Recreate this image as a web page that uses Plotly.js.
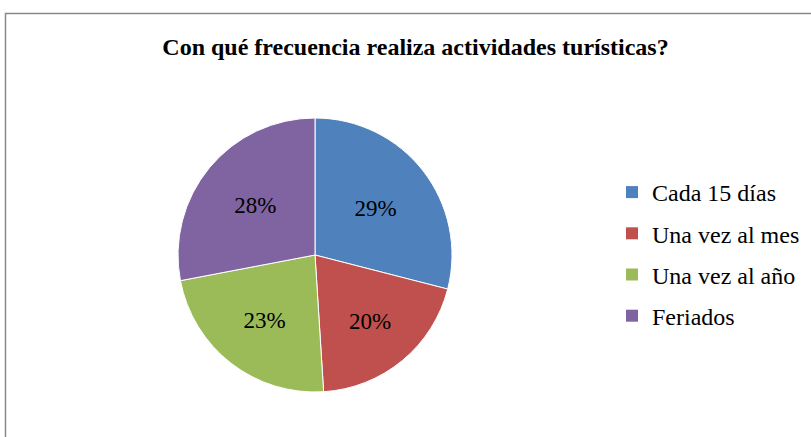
<!DOCTYPE html>
<html><head><meta charset="utf-8">
<script src="https://cdn.plot.ly/plotly-3.0.1.min.js"></script>
<style>html,body{margin:0;padding:0;background:#fff}#chart{width:811px;height:437px}</style>
</head><body><div id="chart"></div>
<script>
const categories = ["Cada 15 días", "Una vez al mes", "Una vez al año", "Feriados"];
const values = [29, 20, 23, 28];
const colors = ["#4F81BD", "#C0504D", "#9BBB59", "#8064A2"];
const titleText = "Con qué frecuencia realiza actividades turísticas?";

const W = 811, H = 437;
const serif = "Liberation Serif";

const traces = [{
  type: "pie",
  labels: categories,
  values: values,
  sort: false,
  direction: "clockwise",
  rotation: 0,
  marker: {colors: colors, line: {color: "#ffffff", width: 1}},
  textinfo: "percent",
  textposition: "inside",
  insidetextorientation: "horizontal",
  textfont: {family: serif, size: 23, color: "#000000"},
  hoverinfo: "label+percent",
  showlegend: false,
  domain: {x: [178 / W, 452 / W], y: [(H - 392) / H, (H - 118) / H]}
}];

categories.forEach((c, i) => {
  traces.push({
    type: "scatter", mode: "markers", x: [null], y: [null],
    name: c, legendgroup: "g" + i, showlegend: true,
    marker: {symbol: "square", size: 12, color: colors[i]},
    hoverinfo: "skip"
  });
});

const layout = {
  width: W, height: H,
  margin: {l: 0, r: 0, t: 0, b: 0},
  paper_bgcolor: "#ffffff", plot_bgcolor: "#ffffff",
  font: {family: serif, color: "#000000"},
  xaxis: {visible: false, domain: [0.99, 1]},
  yaxis: {visible: false, domain: [0.99, 1]},
  title: {
    text: "<b>" + titleText + "</b>",
    font: {family: serif, size: 24, color: "#000000"},
    x: 415.5 / W, xanchor: "center",
    y: 1 - 47 / H, yanchor: "middle",
    xref: "paper", yref: "paper"
  },
  legend: {
    x: 612 / W, xanchor: "left",
    y: 1 - 170 / H, yanchor: "top",
    font: {family: serif, size: 24, color: "#000000"},
    tracegroupgap: 7,
    bgcolor: "rgba(0,0,0,0)",
    itemclick: false, itemdoubleclick: false
  },
  shapes: [{
    type: "rect", xref: "paper", yref: "paper",
    x0: 5.5 / W, x1: 1.05, y0: -0.05, y1: 1 - 13.5 / H,
    line: {color: "#888888", width: 1.5}, fillcolor: "rgba(0,0,0,0)"
  }],
  showlegend: true
};

Plotly.newPlot("chart", traces, layout, {displayModeBar: false, staticPlot: true});
</script>
</body></html>
